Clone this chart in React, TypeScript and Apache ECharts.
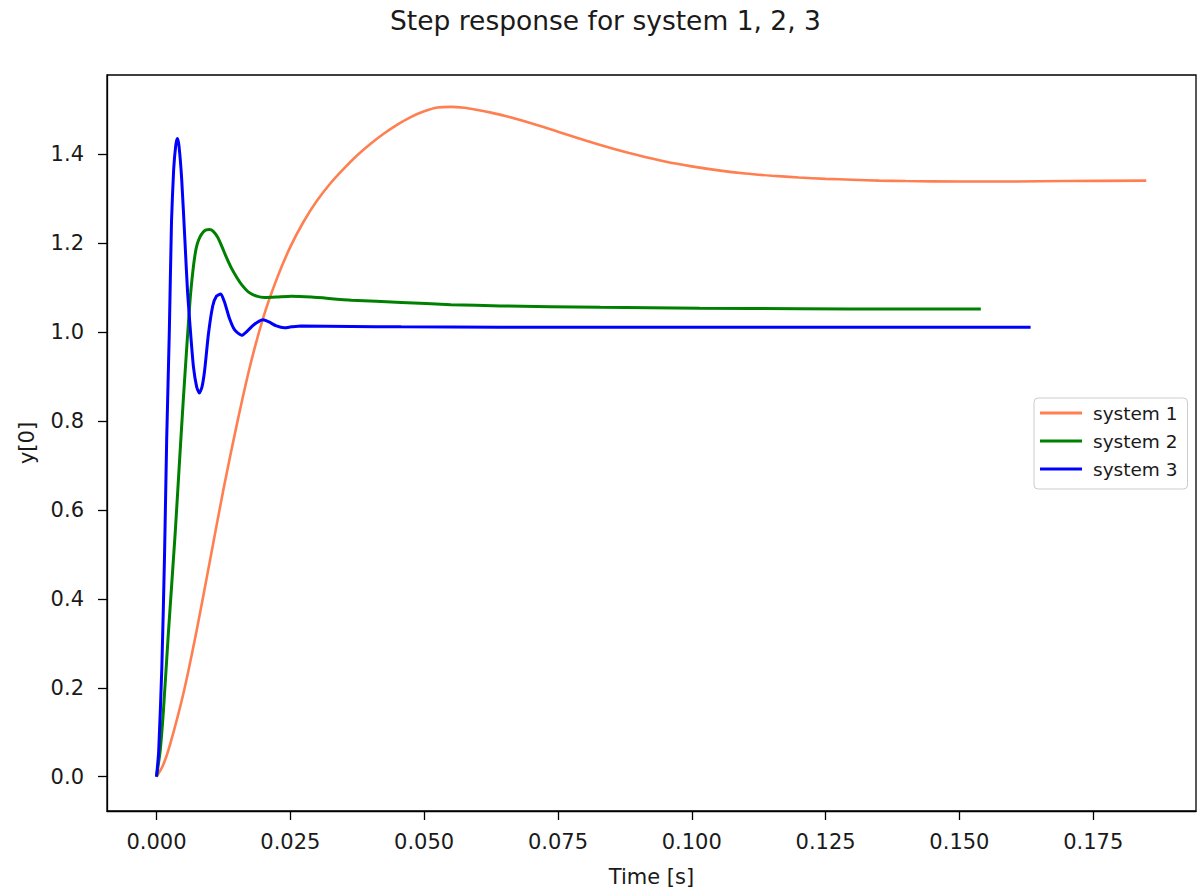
import React, { useEffect, useRef } from "react";
import * as echarts from "echarts";

const titleText = "Step response for system 1, 2, 3";
const xAxisName = "Time [s]";
const yAxisName = "y[0]";
const seriesNames = ["system 1", "system 2", "system 3"];
const seriesColors = ["#ff7f50", "#008000", "#0000ff"];
const xTicks = [0, 0.025, 0.05, 0.075, 0.1, 0.125, 0.15, 0.175];
const yTicks = [0, 0.2, 0.4, 0.6, 0.8, 1.0, 1.2, 1.4];

// [time, y]
const system1: number[][] = [
  [0, 0], [0.0012, 0.025], [0.0025, 0.071], [0.005, 0.186], [0.0075, 0.329],
  [0.01, 0.487], [0.0125, 0.646], [0.015, 0.792], [0.0175, 0.925], [0.02, 1.035],
  [0.0225, 1.121], [0.025, 1.192], [0.0275, 1.249], [0.03, 1.296], [0.0325, 1.335],
  [0.035, 1.368], [0.0375, 1.398], [0.04, 1.424], [0.0425, 1.447], [0.045, 1.467],
  [0.0475, 1.484], [0.05, 1.497], [0.0525, 1.5055], [0.055, 1.507], [0.0575, 1.505],
  [0.06, 1.5], [0.0625, 1.494], [0.065, 1.487], [0.07, 1.47], [0.075, 1.451],
  [0.08, 1.432], [0.085, 1.414], [0.09, 1.398], [0.095, 1.384], [0.1, 1.373],
  [0.105, 1.364], [0.11, 1.357], [0.115, 1.352], [0.12, 1.348], [0.125, 1.345],
  [0.13, 1.343], [0.135, 1.341], [0.14, 1.34], [0.15, 1.339], [0.16, 1.339],
  [0.17, 1.34], [0.1849, 1.341],
];

const system2: number[][] = [
  [0, 0], [0.0007, 0.06], [0.0013, 0.15], [0.0022, 0.32], [0.0035, 0.55],
  [0.0043, 0.71], [0.005, 0.847], [0.0057, 0.975], [0.0063, 1.077], [0.0068, 1.138],
  [0.0072, 1.175], [0.0076, 1.198], [0.0081, 1.214], [0.0087, 1.225], [0.0093, 1.23],
  [0.0099, 1.231], [0.0106, 1.227], [0.0114, 1.214], [0.0121, 1.196], [0.013, 1.17],
  [0.014, 1.144], [0.015, 1.123], [0.0159, 1.107], [0.0172, 1.09], [0.0187, 1.081],
  [0.0202, 1.078], [0.0224, 1.079], [0.0252, 1.081], [0.0289, 1.079], [0.0364, 1.072],
  [0.0457, 1.067], [0.055, 1.062], [0.0643, 1.059], [0.0829, 1.056], [0.1015, 1.054],
  [0.1201, 1.053], [0.1388, 1.052], [0.154, 1.052],
];

const system3: number[][] = [
  [0, 0], [0.0004, 0.056], [0.001, 0.247], [0.0015, 0.499], [0.0019, 0.758],
  [0.0024, 1.005], [0.0028, 1.248], [0.0032, 1.365], [0.0036, 1.421], [0.0039, 1.436],
  [0.0042, 1.419], [0.0047, 1.345], [0.0053, 1.208], [0.0058, 1.09], [0.0064, 0.993],
  [0.0069, 0.922], [0.0075, 0.877], [0.008, 0.863], [0.0085, 0.877], [0.009, 0.915],
  [0.0097, 0.996], [0.0105, 1.059], [0.0112, 1.081], [0.012, 1.086], [0.0127, 1.068],
  [0.0136, 1.032], [0.0146, 1.005], [0.0159, 0.993], [0.017, 1.003], [0.0181, 1.016],
  [0.0192, 1.025], [0.0199, 1.028], [0.021, 1.023], [0.0224, 1.014], [0.0239, 1.01],
  [0.0252, 1.012], [0.027, 1.014], [0.0364, 1.013], [0.0457, 1.012], [0.0643, 1.011],
  [0.1015, 1.011], [0.1388, 1.011], [0.1633, 1.011],
];

const seriesData = [system1, system2, system3];
const lineWidths = [2.6, 3, 3];
const smoothness = [0.3, 0.2, 0.2];

const FONT = "DejaVu Sans";
const TEXT = "#1a1a1a";

export default function App() {
  const ref = useRef<HTMLDivElement>(null);
  useEffect(() => {
    if (!ref.current) return;
    const chart = echarts.init(ref.current, null, { renderer: "svg" });
    chart.setOption({
      animation: false,
      backgroundColor: "#ffffff",
      title: {
        text: titleText,
        left: 390,
        top: 7,
        padding: 0,
        textStyle: { fontFamily: FONT, fontSize: 26.5, fontWeight: "normal", color: TEXT },
      },
      legend: {
        data: seriesNames,
        orient: "vertical",
        left: 1034,
        top: 398,
        icon: "rect",
        itemWidth: 42,
        itemHeight: 3,
        itemGap: 8,
        padding: [5, 10, 10, 6],
        borderColor: "#cccccc",
        borderWidth: 1,
        borderRadius: 4,
        backgroundColor: "rgba(255,255,255,0.8)",
        textStyle: {
          fontFamily: FONT,
          fontSize: 18.5,
          lineHeight: 20,
          color: TEXT,
          padding: [0, 0, 0, 6],
        },
      },
      grid: {
        left: 107,
        top: 75,
        width: 1089,
        height: 736,
        show: true,
        borderColor: "#000",
        borderWidth: 1.3,
        backgroundColor: "transparent",
      },
      xAxis: {
        type: "value",
        min: -0.00925,
        max: 0.1942,
        name: xAxisName,
        nameLocation: "middle",
        nameGap: 55,
        nameTextStyle: { fontFamily: FONT, fontSize: 21, color: TEXT },
        axisLine: { show: true, onZero: false, lineStyle: { color: "#000", width: 1.3 } },
        axisTick: { show: true, customValues: xTicks, length: 9, lineStyle: { color: "#000", width: 1.3 } },
        axisLabel: {
          customValues: xTicks,
          formatter: (v: number) => v.toFixed(3),
          fontFamily: FONT,
          fontSize: 21,
          color: TEXT,
          margin: 20,
        },
        splitLine: { show: false },
      },
      yAxis: {
        type: "value",
        min: -0.0772,
        max: 1.5786,
        name: yAxisName,
        nameLocation: "middle",
        nameRotate: 90,
        nameGap: 70,
        nameTextStyle: { fontFamily: FONT, fontSize: 21, color: TEXT },
        axisLine: { show: true, onZero: false, lineStyle: { color: "#000", width: 1.3 } },
        axisTick: { show: true, customValues: yTicks, length: 9, lineStyle: { color: "#000", width: 1.3 } },
        axisLabel: {
          customValues: yTicks,
          formatter: (v: number) => v.toFixed(1),
          fontFamily: FONT,
          fontSize: 21,
          color: TEXT,
          margin: 23,
        },
        splitLine: { show: false },
      },
      series: seriesNames.map((name, i) => ({
        name,
        type: "line",
        data: seriesData[i],
        showSymbol: false,
        symbol: "none",
        smooth: smoothness[i],
        color: seriesColors[i],
        lineStyle: { color: seriesColors[i], width: lineWidths[i] },
        z: 2 + i,
      })),
    });
    return () => chart.dispose();
  }, []);
  return (
    <div
      ref={ref}
      style={{ position: "fixed", left: 0, top: 0, width: 1197, height: 894, background: "#fff" }}
    />
  );
}
